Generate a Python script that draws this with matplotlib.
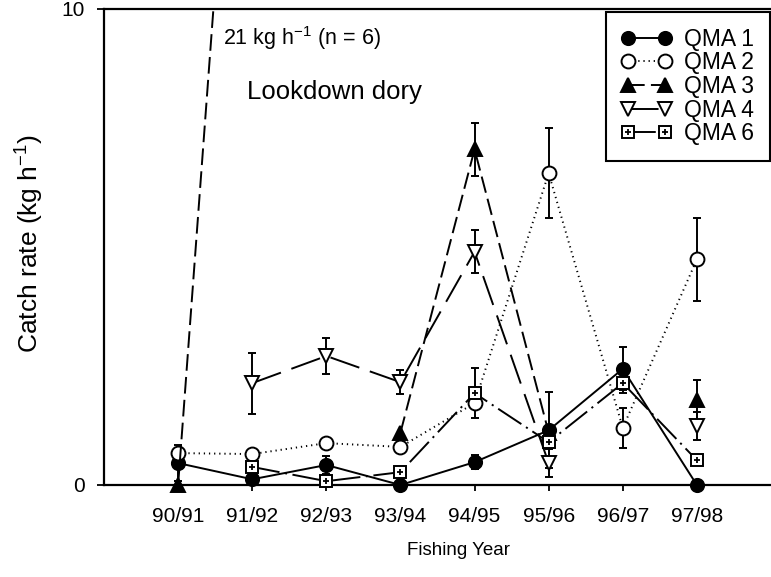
import numpy as np
import matplotlib
matplotlib.use("Agg")
import matplotlib.pyplot as plt
from matplotlib.transforms import Bbox, TransformedBbox

plt.rcParams['font.family'] = ['Liberation Sans', 'DejaVu Sans']
plt.rcParams['mathtext.fontset'] = 'custom'
plt.rcParams['mathtext.rm'] = 'Liberation Sans'
plt.rcParams['mathtext.default'] = 'regular'
plt.rcParams['lines.scale_dashes'] = False

# Fishing years and mean catch rates (kg/h) per QMA, nan = no survey
years = ['90/91', '91/92', '92/93', '93/94', '94/95', '95/96', '96/97', '97/98']

qma1 = [0.46, 0.12, 0.42, 0.0, 0.48, 1.15, 2.44, 0.0]
qma1_err = [0.38, np.nan, 0.18, np.nan, 0.15, 0.8, 0.45, np.nan]

qma2 = [0.67, 0.65, 0.88, 0.80, 1.72, 6.55, 1.20, 4.74]
qma2_err = [np.nan, np.nan, np.nan, np.nan, np.nan, 0.95, 0.42, 0.87]

# 91/92 value is off scale (21 kg/h, n = 6)
qma3 = [0.0, 21.0, np.nan, 1.1, 7.05, 1.1, np.nan, 1.78]
qma3_err = [np.nan, np.nan, np.nan, np.nan, 0.55, np.nan, np.nan, 0.42]

qma4 = [np.nan, 2.14, 2.71, 2.16, 4.9, 0.46, np.nan, 1.24]
qma4_err = [np.nan, 0.64, 0.37, 0.25, 0.45, 0.3, np.nan, 0.3]

qma6 = [np.nan, 0.38, 0.08, 0.27, 1.93, 0.9, 2.14, 0.52]
qma6_err = [np.nan, np.nan, np.nan, np.nan, 0.53, np.nan, 0.2, 0.1]

x = np.arange(len(years))

fig = plt.figure(figsize=(7.71, 5.77), dpi=100)
ax = fig.add_axes([104/771, 1 - 485/577, 1 - 104/771, (485 - 9)/577])
ax.set_xlim(-1, 8)
ax.set_ylim(0, 10)

# clip at the top of the axes but let markers sitting on zero show whole
clipbox = TransformedBbox(Bbox([[-1.2, -0.6], [8.2, 10]]), ax.transData)

series = [
    (qma1, qma1_err, 'QMA 1', 'o', 'black', 9.5, '-'),
    (qma2, qma2_err, 'QMA 2', 'o', 'white', 10, (0, (0.9, 2.8))),
    (qma3, qma3_err, 'QMA 3', '^', 'black', 9.5, (0, (12, 4.5))),
    (qma4, qma4_err, 'QMA 4', 'v', 'white', 10, (0, (22, 8))),
    (qma6, qma6_err, 'QMA 6', 's', 'white', 8.5, (0, (20, 4, 1.5, 4))),
]

handles = []
for vals, err, label, mk, fc, ms, ls in series:
    eb = ax.errorbar(x, vals, yerr=err, fmt='none', ecolor='black',
                     elinewidth=1.4, capsize=3, capthick=1.4, zorder=2)
    for artist in eb.lines[1] + eb.lines[2]:
        artist.set_clip_box(clipbox)
    ln, = ax.plot(x, vals, color='black', lw=1.4, linestyle=ls, marker=mk,
                  ms=ms, mfc=fc, mec='black', mew=1.4, zorder=3)
    ln.set_clip_box(clipbox)
    handle = ln
    if mk == 's':
        # small cross inside the square symbol
        pl, = ax.plot(x, vals, linestyle='none', marker='+', ms=4.5,
                      mew=1.3, color='black', zorder=4)
        pl.set_clip_box(clipbox)
        handle = (ln, pl)
    handles.append((handle, label))

ax.text(0.6, 9.4, '21 kg h$^{-1}$ (n = 6)', fontsize=15.5, ha='left', va='center')
ax.text(0.93, 8.26, 'Lookdown dory', fontsize=18.5, ha='left', va='center')

leg = ax.legend([h for h, l in handles], [l for h, l in handles],
                loc='upper right', bbox_to_anchor=(770/771, 1 - 12/577),
                bbox_transform=fig.transFigure, borderaxespad=0,
                numpoints=2, handlelength=2.2, handletextpad=0.55,
                labelspacing=0.03, borderpad=0.68, fontsize=16.5,
                fancybox=False, framealpha=1, edgecolor='black')
leg.get_frame().set_linewidth(1.5)

ax.set_xticks(x)
ax.set_xticklabels(years)
ax.set_yticks([0, 10])
ax.tick_params(axis='x', direction='out', length=4, width=1.3, pad=12, labelsize=15)
ax.tick_params(axis='y', direction='out', length=5, width=1.3, pad=9, labelsize=15)

ax.spines['right'].set_visible(False)
for s in ['left', 'bottom', 'top']:
    ax.spines[s].set_linewidth(1.6)

ax.set_xlabel('Fishing Year', fontsize=13.5, labelpad=14)
ax.xaxis.set_label_coords(0.532, -0.119)
ax.set_ylabel('Catch rate (kg h$^{-1}$)', fontsize=19)
ax.yaxis.set_label_coords(-0.087, 0.508)

fig.savefig('out.png', dpi=100)
